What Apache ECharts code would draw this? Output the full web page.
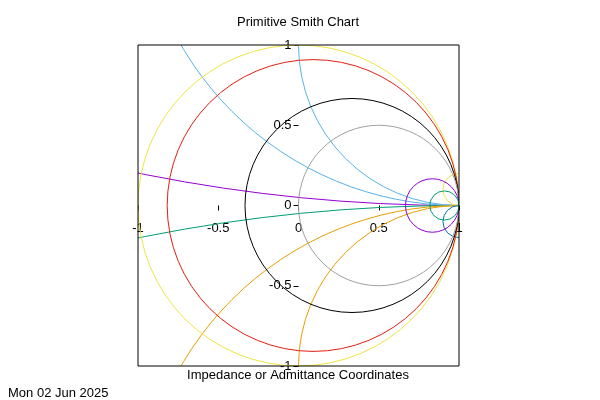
<!DOCTYPE html>
<html><head><meta charset="utf-8">
<script src="https://cdn.jsdelivr.net/npm/echarts@6/dist/echarts.min.js"></script>
<style>html,body{margin:0;padding:0;background:#fff}#c{width:600px;height:400px}</style>
</head><body><div id="c"></div>
<script>
// Normalised resistance values (constant-R circles)
const resistances = [0, 0.1, 0.5, 1, 5, 10];
// Normalised reactance values (constant-X arcs)
const reactances = [0.1, -0.1, 0.5, -0.5, 1, -1, 10, -10];
const tickValues = [-1, -0.5, 0, 0.5, 1];
const titleText = 'Primitive Smith Chart';
const xLabelText = 'Impedance or Admittance Coordinates';
const stampText = 'Mon 02 Jun 2025';

// styles (kept apart from the data)
const resistanceColors = ['#F0E442', '#E51E10', '#000000', '#A0A0A0', '#9400D3', '#009E73'];
const reactanceColors = ['#9400D3', '#009E73', '#56B4E9', '#E69F00', '#56B4E9', '#E69F00', '#F0E442', '#0072B2'];
const FONT = 'Liberation Sans, Arial, sans-serif';
const FS = 13;
const GRID = {left: 138, top: 45, width: 321, height: 321};

const chart = echarts.init(document.getElementById('c'), null, {renderer: 'canvas'});

function renderResistance(params, api) {
  const r = api.value(0);
  const c = api.coord([r / (1 + r), 0]);
  const rad = api.size([1 / (1 + r), 0])[0];
  return {
    type: 'circle',
    shape: {cx: c[0], cy: c[1], r: rad},
    style: {fill: 'none', stroke: resistanceColors[params.dataIndex], lineWidth: 1}
  };
}
function renderReactance(params, api) {
  const x = api.value(0);
  const c = api.coord([1, 1 / x]);
  const rad = api.size([Math.abs(1 / x), 0])[0];
  return {
    type: 'circle',
    shape: {cx: c[0], cy: c[1], r: rad},
    style: {fill: 'none', stroke: reactanceColors[params.dataIndex], lineWidth: 1}
  };
}

const axisLabel = {color: '#000', fontSize: FS, fontFamily: FONT};

chart.setOption({
  animation: false,
  backgroundColor: '#fff',
  grid: Object.assign({show: true, borderColor: '#000', borderWidth: 1, backgroundColor: 'transparent', z: 5}, GRID),
  xAxis: {
    type: 'value', position: 'bottom', offset: -GRID.height / 2,
    min: tickValues[0], max: tickValues[tickValues.length - 1], interval: 0.5,
    axisLine: {show: false, onZero: false},
    axisTick: {show: true, length: 5, lineStyle: {color: '#000'}},
    splitLine: {show: false},
    axisLabel: Object.assign({margin: 16, showMinLabel: true, showMaxLabel: true}, axisLabel)
  },
  yAxis: {
    type: 'value', position: 'left', offset: -GRID.width / 2,
    min: tickValues[0], max: tickValues[tickValues.length - 1], interval: 0.5,
    axisLine: {show: false, onZero: false},
    axisTick: {show: true, length: 5, lineStyle: {color: '#000'}},
    splitLine: {show: false},
    axisLabel: Object.assign({margin: 7, showMinLabel: true, showMaxLabel: true}, axisLabel)
  },
  series: [
    {type: 'custom', clip: true, data: reactances, renderItem: renderReactance, silent: true},
    {type: 'custom', clip: true, data: resistances, renderItem: renderResistance, silent: true}
  ],
  graphic: [
    {type: 'text', x: 298, y: 22, style: {text: titleText, align: 'center', verticalAlign: 'middle', font: FS + 'px ' + FONT, fill: '#000'}},
    {type: 'text', x: 298, y: 375, style: {text: xLabelText, align: 'center', verticalAlign: 'middle', font: FS + 'px ' + FONT, fill: '#000'}},
    {type: 'text', x: 8, y: 393, style: {text: stampText, align: 'left', verticalAlign: 'middle', font: FS + 'px ' + FONT, fill: '#000'}}
  ]
});
</script></body></html>
